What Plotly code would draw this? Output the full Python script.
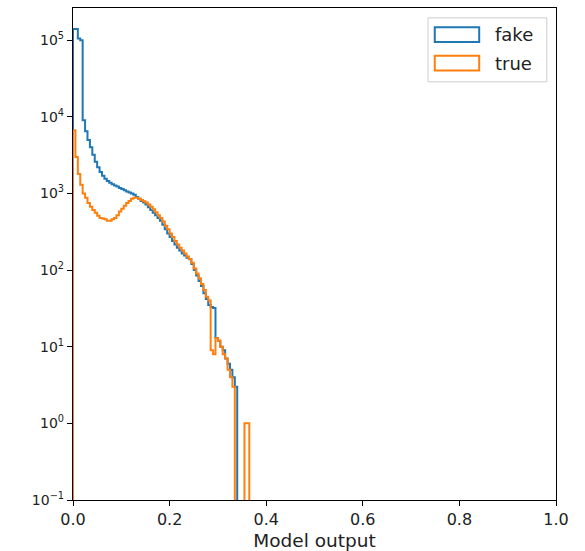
import numpy as np
import plotly.graph_objects as go

# ---- data (histogram counts, bin width 0.005 starting at 0.0) ----
BIN_START = 0.0
BIN_WIDTH = 0.005

fake_counts = [140000, 140000, 105000, 100000, 9000, 6500, 5000, 4000, 3200, 2600,
               2200, 1900, 1700, 1550, 1450, 1380, 1320, 1270, 1230, 1180,
               1140, 1100, 1060, 1030, 1000, 960, 900, 850, 800, 760,
               720, 660, 610, 560, 520, 480, 440, 390, 340, 300,
               270, 240, 215, 195, 180, 165, 155, 145, 138, 120,
               100, 85, 72, 62, 50, 42, 35, 33, 32, 13,
               12, 10, 9, 7, 6, 5, 4, 3, 0, 0,
               0, 0, 0, 0]

true_counts = [6700, 3000, 1800, 1300, 1000, 880, 750, 670, 610, 560,
               510, 480, 470, 460, 440, 440, 460, 480, 520, 580,
               630, 690, 750, 800, 850, 880, 880, 850, 820, 790,
               760, 720, 670, 620, 570, 520, 480, 430, 380, 340,
               300, 270, 240, 215, 195, 180, 165, 150, 140, 125,
               105, 90, 78, 66, 55, 45, 40, 9, 8, 13,
               12, 10, 8, 7, 5, 4, 3, 0, 0, 0,
               0, 1, 1, 0]

series_names = ["fake", "true"]
series_colors = ["#1f77b4", "#ff7f0e"]

y_tick_exponents = [-1, 0, 1, 2, 3, 4, 5]
x_tick_values = [0.0, 0.2, 0.4, 0.6, 0.8, 1.0]

FLOOR = 1e-3  # zero counts drawn down past the axis bottom (log scale)


def step_outline(counts):
    n = len(counts)
    edges = BIN_START + BIN_WIDTH * np.arange(n + 1)
    c = np.array(counts, dtype=float)
    c[c <= 0] = FLOOR
    xs = np.repeat(edges, 2)
    ys = np.concatenate([[FLOOR], np.repeat(c, 2), [FLOOR]])
    return xs, ys


fig = go.Figure()
for name, counts, color in zip(series_names, [fake_counts, true_counts], series_colors):
    xs, ys = step_outline(counts)
    fig.add_trace(go.Scatter(x=xs, y=ys, mode="lines", name=name,
                             line=dict(color=color, width=2), showlegend=False,
                             hoverinfo="skip"))

FONT = "DejaVu Sans"
TICK_SIZE = 16

fig.update_layout(
    width=585, height=551,
    margin=dict(l=73, r=29, t=8, b=51),
    plot_bgcolor="white", paper_bgcolor="white",
    font=dict(family=FONT, size=TICK_SIZE, color="#222222"),
    showlegend=False,
)

fig.update_xaxes(
    range=[0, 1], tickvals=x_tick_values,
    ticktext=[f"{v:.1f}" for v in x_tick_values],
    ticks="outside", ticklen=5, tickwidth=1.2, tickcolor="black",
    showline=True, linecolor="black", linewidth=1.2, mirror=True,
    showgrid=False, zeroline=False,
    title=dict(text="Model output", font=dict(size=18.5), standoff=6),
    automargin=False,
)

fig.update_yaxes(
    type="log", range=[-1, 5.42],
    tickvals=[10.0 ** e for e in y_tick_exponents],
    ticktext=[f"10<sup>{e}</sup>".replace("-", "\u2212") for e in y_tick_exponents],
    ticks="outside", ticklen=5, tickwidth=1.2, tickcolor="black",
    showline=True, linecolor="black", linewidth=1.2, mirror=True,
    showgrid=False, zeroline=False,
    tickfont=dict(size=14),
    automargin=False,
)

# legend (matplotlib-style patches)
fig.add_shape(type="rect", xref="paper", yref="paper",
              x0=0.735, x1=0.981, y0=0.850, y1=0.980,
              line=dict(color="#cccccc", width=1), fillcolor="rgba(255,255,255,0.8)")
legend_rows = [0.946, 0.888]
for name, color, yc in zip(series_names, series_colors, legend_rows):
    fig.add_shape(type="rect", xref="paper", yref="paper",
                  x0=0.749, x1=0.841, y0=yc - 0.015, y1=yc + 0.015,
                  line=dict(color=color, width=2), fillcolor="rgba(0,0,0,0)")
    fig.add_annotation(xref="paper", yref="paper", x=0.870, y=yc,
                       text=name, showarrow=False, xanchor="left", yanchor="middle",
                       font=dict(family=FONT, size=18, color="#222222"))

fig.write_html("out.html")
